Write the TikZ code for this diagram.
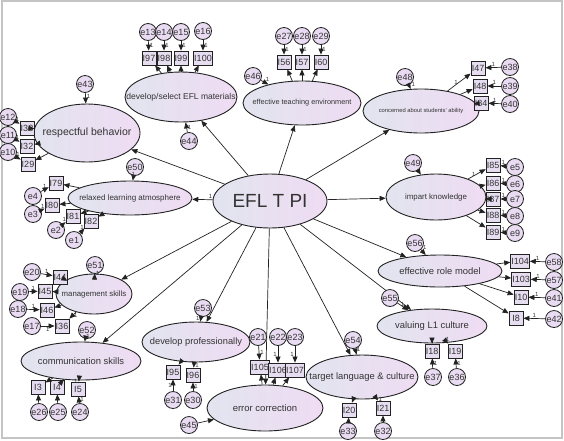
\documentclass[tikz,border=0pt]{standalone}
\usepackage{fontspec}
\setmainfont{Liberation Sans}
\usetikzlibrary{shapes.geometric,arrows.meta}
\definecolor{ellL}{HTML}{E2E4EF}
\definecolor{ellR}{HTML}{EFDCF3}
\definecolor{errc}{HTML}{E9DBF1}
\definecolor{boxc}{HTML}{E7DDF0}
\definecolor{linec}{HTML}{222222}
\definecolor{txtc}{HTML}{333333}
\definecolor{framec}{HTML}{C4C4C4}
\newcommand\errarr[2]{\draw[arr] (#1) -- (#2) node[one,midway,above]{1};}
\newcommand\loadarr[2]{\draw[arr] (#1) -- (#2);}
\newcommand\fs[1]{\fontsize{#1}{#1}\selectfont}
\begin{document}
\begin{tikzpicture}[x=1pt,y=-1pt,
 lat/.style={ellipse, draw=linec, line width=0.9pt, left color=ellL, right color=ellR, inner sep=0pt},
 lbl/.style={text=txtc, inner sep=0pt},
 obs/.style={rectangle, draw=linec, line width=0.8pt, fill=boxc, minimum width=14pt, minimum height=14pt, inner sep=0.6pt, text=txtc, font=\fs{9}},
 err/.style={circle, draw=linec, line width=0.8pt, fill=errc, minimum size=17pt, inner sep=0pt, text=txtc, font=\fs{9}},
 arr/.style={draw=linec, line width=0.7pt, -{Triangle[length=6pt,width=5pt]}},
 one/.style={font=\fs{6}, inner sep=1pt, text=txtc}
]
\path[use as bounding box] (0,0) rectangle (564,440);
\draw[framec, line width=1.2pt] (2,1) rectangle (562,438);

% ---------- latent variables ----------
\node[lat, minimum width=114pt, minimum height=54pt] (efl) at (270,201) {};
\node[lbl, font=\fs{19}] at (efl) {EFL T PI};
\node[lat, minimum width=106pt, minimum height=58pt] (rb) at (87,133) {};
\node[lbl, font=\fs{10.5}] at (rb) {respectful behavior};
\node[lat, minimum width=124pt, minimum height=34pt] (rla) at (130,198) {};
\node[lbl, font=\fs{8}] at (rla) {relaxed learning atmosphere};
\node[lat, minimum width=112pt, minimum height=50pt] (dsm) at (181,97) {};
\node[lbl, font=\fs{8.5}] at (dsm) {develop/select EFL materials};
\node[lat, minimum width=118pt, minimum height=44pt] (ete) at (302,103) {};
\node[lbl, font=\fs{7.3}] at (ete) {effective teaching environment};
\node[lat, minimum width=116pt, minimum height=44pt] (cas) at (421,111) {};
\node[lbl, font=\fs{5.8}] at (cas) {concerned about students' ability};
\node[lat, minimum width=100pt, minimum height=46pt] (ik) at (436,197) {};
\node[lbl, font=\fs{7.9}] at (ik) {impart knowledge};
\node[lat, minimum width=124pt, minimum height=32pt] (erm) at (440,271) {};
\node[lbl, font=\fs{9.4}] at (erm) {effective role model};
\node[lat, minimum width=110pt, minimum height=34pt] (vlc) at (432,326) {};
\node[lbl, font=\fs{9.4}] at (vlc) {valuing L1 culture};
\node[lat, minimum width=112pt, minimum height=44pt] (tlc) at (362,377) {};
\node[lbl, font=\fs{9.4}] at (tlc) {target language \& culture};
\node[lat, minimum width=116pt, minimum height=46pt] (ec) at (265,408) {};
\node[lbl, font=\fs{9.5}] at (ec) {error correction};
\node[lat, minimum width=108pt, minimum height=40pt] (dp) at (196,342) {};
\node[lbl, font=\fs{9.3}] at (dp) {develop professionally};
\node[lat, minimum width=120pt, minimum height=38pt] (cs) at (81,361) {};
\node[lbl, font=\fs{9.4}] at (cs) {communication skills};
\node[lat, minimum width=76pt, minimum height=40pt] (ms) at (94,294) {};
\node[lbl, font=\fs{7.8}] at (ms) {management skills};

% ---------- structural paths ----------
\foreach \f in {rb,dsm,ete,cas,ik,erm,vlc,tlc,ec,dp,cs,ms} {\draw[arr] (efl) -- (\f);}
\draw[arr] (efl) -- (rla) node[one,pos=0.1,above]{1};

% ---------- respectful behavior ----------
\node[obs] (I33) at (27,128) {I33};
\node[obs] (I32) at (27,146) {I32};
\node[obs] (I29) at (28,164) {I29};
\node[err] (e12) at (8,117) {e12};
\node[err] (e11) at (8,135) {e11};
\node[err] (e10) at (8,152) {e10};
\node[err] (e43) at (85,84) {e43};
\loadarr{rb}{I33}\loadarr{rb}{I32}\loadarr{rb}{I29}
\errarr{e12}{I33}\errarr{e11}{I32}\errarr{e10}{I29}
\draw[arr] (e43) -- (rb) node[one,pos=0.35,right]{1};

% ---------- relaxed learning atmosphere ----------
\node[obs] (I79) at (56,183) {I79};
\node[obs] (I80) at (52,205) {I80};
\node[obs] (I81) at (73,216) {I81};
\node[obs] (I82) at (91,221) {I82};
\node[err] (e4) at (33,196) {e4};
\node[err] (e3) at (33,214) {e3};
\node[err] (e2) at (56,230) {e2};
\node[err] (e1) at (74,240) {e1};
\node[err] (e50) at (135,167) {e50};
\loadarr{rla}{I79}\loadarr{rla}{I80}\loadarr{rla}{I81}\loadarr{rla}{I82}
\errarr{e4}{I79}\errarr{e3}{I80}\errarr{e2}{I81}\errarr{e1}{I82}
\draw[arr] (e50) -- (rla) node[one,midway,above]{1};

% ---------- develop/select EFL materials ----------
\node[obs] (I97) at (149,58) {I97};
\node[obs] (I98) at (164,58) {I98};
\node[obs] (I99) at (181,58) {I99};
\node[obs] (I100) at (203,58) {I100};
\node[err] (e13) at (148,32) {e13};
\node[err] (e14) at (164,32) {e14};
\node[err] (e15) at (181,32) {e15};
\node[err] (e16) at (203,31) {e16};
\node[err] (e44) at (189,141) {e44};
\loadarr{dsm}{I97}\loadarr{dsm}{I98}\loadarr{dsm}{I99}\loadarr{dsm}{I100}
\draw[arr] (e13) -- (I97) node[one,midway,right]{1};
\draw[arr] (e14) -- (I98) node[one,midway,right]{1};
\draw[arr] (e15) -- (I99) node[one,midway,right]{1};
\draw[arr] (e16) -- (I100) node[one,midway,right]{1};
\draw[arr] (e44) -- (dsm) node[one,midway,right]{1};

% ---------- effective teaching environment ----------
\node[obs] (I56) at (284,62) {I56};
\node[obs] (I57) at (302,62) {I57};
\node[obs] (I60) at (321,62) {I60};
\node[err] (e27) at (284,36) {e27};
\node[err] (e28) at (302,36) {e28};
\node[err] (e29) at (321,36) {e29};
\node[err] (e46) at (253,76) {e46};
\loadarr{ete}{I56}\loadarr{ete}{I57}\loadarr{ete}{I60}
\draw[arr] (e27) -- (I56) node[one,midway,right]{1};
\draw[arr] (e28) -- (I57) node[one,midway,right]{1};
\draw[arr] (e29) -- (I60) node[one,midway,right]{1};
\draw[arr] (e46) -- (ete) node[one,midway,above right]{1};

% ---------- concerned about students' ability ----------
\node[obs] (I47) at (478,68) {I47};
\node[obs] (I48) at (480,86) {I48};
\node[obs] (I84) at (481,103) {I84};
\node[err] (e38) at (510,67) {e38};
\node[err] (e39) at (510,86) {e39};
\node[err] (e40) at (510,104) {e40};
\node[err] (e48) at (405,77) {e48};
\draw[arr] (cas) -- (I47) node[one,midway,left]{1};
\loadarr{cas}{I48}\loadarr{cas}{I84}
\errarr{e38}{I47}\errarr{e39}{I48}\errarr{e40}{I84}
\draw[arr] (e48) -- (cas) node[one,pos=0.75,above right]{1};

% ---------- impart knowledge ----------
\node[obs] (I85) at (493,165) {I85};
\node[obs] (I86) at (493,183) {I86};
\node[obs] (I87) at (493,199) {I87};
\node[obs] (I88) at (493,215) {I88};
\node[obs] (I89) at (493,232) {I89};
\node[err] (e5) at (515,167) {e5};
\node[err] (e6) at (515,184) {e6};
\node[err] (e7) at (515,199) {e7};
\node[err] (e8) at (515,216) {e8};
\node[err] (e9) at (515,233) {e9};
\node[err] (e49) at (413,163) {e49};
\draw[arr] (ik) -- (I85) node[one,midway,left]{1};
\loadarr{ik}{I86}\loadarr{ik}{I87}\loadarr{ik}{I88}\loadarr{ik}{I89}
\errarr{e5}{I85}\errarr{e6}{I86}\errarr{e7}{I87}\errarr{e8}{I88}\errarr{e9}{I89}
\draw[arr] (e49) -- (ik);

% ---------- effective role model ----------
\node[obs] (I104) at (520,261) {I104};
\node[obs] (I103) at (521,279) {I103};
\node[obs] (I10) at (521,297) {I10};
\node[obs] (I8) at (516,318) {I8};
\node[err] (e58) at (554,262) {e58};
\node[err] (e57) at (554,280) {e57};
\node[err] (e41) at (554,298) {e41};
\node[err] (e42) at (554,319) {e42};
\node[err] (e56) at (415,243) {e56};
\loadarr{erm}{I104}\loadarr{erm}{I103}\loadarr{erm}{I10}\loadarr{erm}{I8}
\errarr{e58}{I104}\errarr{e57}{I103}\errarr{e41}{I10}\errarr{e42}{I8}
\draw[arr] (e56) -- (erm) node[one,pos=0.2,above right]{1};

% ---------- valuing L1 culture ----------
\node[obs] (I18) at (432,351) {I18};
\node[obs] (I19) at (455,351) {I19};
\node[err] (e37) at (433,377) {e37};
\node[err] (e36) at (457,377) {e36};
\node[err] (e55) at (390,298) {e55};
\loadarr{vlc}{I18}
\draw[arr] (vlc) -- (I19) node[one,pos=0.1,above]{1};
\draw[arr] (e37) -- (I18) node[one,midway,right]{1};
\draw[arr] (e36) -- (I19) node[one,midway,right]{1};
\draw[arr] (e55) -- (vlc) node[one,pos=0.2,right]{1};

% ---------- target language & culture ----------
\node[obs] (I20) at (349,410) {I20};
\node[obs] (I21) at (383,408) {I21};
\node[err] (e33) at (348,431) {e33};
\node[err] (e32) at (383,431) {e32};
\node[err] (e54) at (353,340) {e54};
\loadarr{tlc}{I20}
\draw[arr] (tlc) -- (I21) node[one,midway,right]{1};
\loadarr{e33}{I20}\loadarr{e32}{I21}
\draw[arr] (e54) -- (tlc) node[one,pos=0.2,right]{1};

% ---------- error correction ----------
\node[obs] (I105) at (260,367) {I105};
\node[obs] (I106) at (278,370) {I106};
\node[obs] (I107) at (295,370) {I107};
\node[err] (e21) at (258,337) {e21};
\node[err] (e22) at (278,337) {e22};
\node[err] (e23) at (295,337) {e23};
\node[err] (e45) at (189,425) {e45};
\loadarr{ec}{I105}\loadarr{ec}{I106}\loadarr{ec}{I107}
\draw[arr] (e21) -- (I105) node[one,midway,right]{1};
\draw[arr] (e22) -- (I106) node[one,midway,left]{1};
\draw[arr] (e23) -- (I107) node[one,midway,left]{1};
\draw[arr] (e45) -- (ec);

% ---------- develop professionally ----------
\node[obs] (I95) at (173,372) {I95};
\node[obs] (I96) at (193,375) {I96};
\node[err] (e31) at (173,400) {e31};
\node[err] (e30) at (193,400) {e30};
\node[err] (e53) at (203,308) {e53};
\loadarr{dp}{I95}
\draw[arr] (dp) -- (I96) node[one,midway,right]{1};
\draw[arr] (e31) -- (I95) node[one,midway,left]{1};
\draw[arr] (e30) -- (I96) node[one,midway,right]{1};
\draw[arr] (e53) -- (dp) node[one,pos=0.4,left]{1};

% ---------- communication skills ----------
\node[obs] (I3) at (38,387) {I3};
\node[obs] (I4) at (57,387) {I4};
\node[obs] (I5) at (78,389) {I5};
\node[err] (e26) at (39,412) {e26};
\node[err] (e25) at (58,412) {e25};
\node[err] (e24) at (80,412) {e24};
\node[err] (e52) at (87,330) {e52};
\loadarr{cs}{I3}\loadarr{cs}{I4}
\draw[arr] (cs) -- (I5) node[one,midway,left]{1};
\loadarr{e26}{I3}\loadarr{e25}{I4}
\draw[arr] (e24) -- (I5) node[one,midway,right]{1};
\draw[arr] (e52) -- (cs) node[one,pos=0.3,above right]{1};

% ---------- management skills ----------
\node[obs] (I44) at (60,277) {I44};
\node[obs] (I45) at (45,291) {I45};
\node[obs] (I46) at (47,310) {I46};
\node[obs] (I36) at (62,326) {I36};
\node[err] (e20) at (32,272) {e20};
\node[err] (e19) at (20,292) {e19};
\node[err] (e18) at (18,309) {e18};
\node[err] (e17) at (32,326) {e17};
\node[err] (e51) at (95,265) {e51};
\loadarr{ms}{I44}\loadarr{ms}{I45}\loadarr{ms}{I46}
\draw[arr] (ms) -- (I36) node[one,midway,right]{1};
\errarr{e20}{I44}\errarr{e19}{I45}\errarr{e18}{I46}
\draw[arr] (e17) -- (I36) node[one,midway,below]{1};
\draw[arr] (e51) -- (ms) node[one,midway,right]{1};
\end{tikzpicture}
\end{document}
